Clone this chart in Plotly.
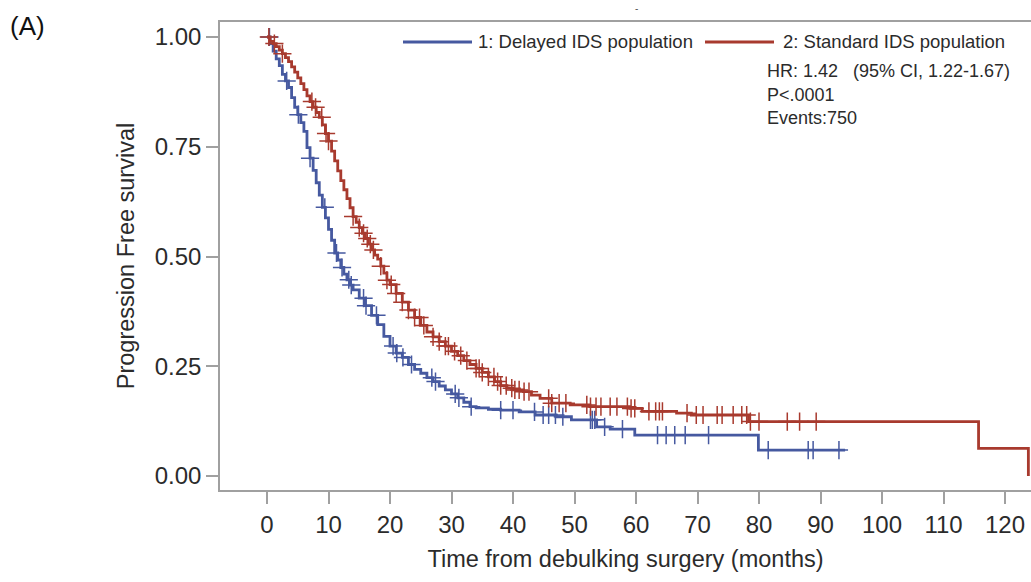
import numpy as np
import plotly.graph_objects as go

# ---- Data (Kaplan-Meier estimates) ----
delayed_time = [0, 0.5, 1, 1.5, 2, 2.5, 3, 3.5, 4, 4.5, 5, 5.5, 6, 6.5, 7, 7.5, 8, 8.5, 9, 9.5,
                10, 10.5, 11, 11.5, 12, 12.5, 13, 13.5, 14, 15, 16, 17, 18, 19, 20, 21, 22, 23, 24,
                25, 26, 27, 28, 29, 30, 31, 32, 33, 34, 36, 38, 41, 43.6, 47, 49.5, 53.6, 55.8,
                59.8, 79.9, 94.0]
delayed_surv = [1.000, 0.985, 0.968, 0.950, 0.935, 0.915, 0.900, 0.885, 0.862, 0.840, 0.823, 0.805,
                0.785, 0.748, 0.724, 0.696, 0.668, 0.640, 0.612, 0.588, 0.562, 0.537, 0.508, 0.492,
                0.475, 0.460, 0.447, 0.435, 0.424, 0.405, 0.388, 0.366, 0.345, 0.318, 0.296, 0.280,
                0.270, 0.254, 0.243, 0.234, 0.224, 0.215, 0.205, 0.196, 0.187, 0.178, 0.168, 0.158,
                0.155, 0.152, 0.150, 0.146, 0.139, 0.135, 0.128, 0.112, 0.107, 0.093, 0.059, 0.059]
delayed_censor = [0.4, 3.2, 5.1, 7.0, 9.4, 11.3, 12.2, 13.3, 13.7, 15.7, 16.1, 17.8, 20.5, 21.1,
                  22.1, 23.5, 26.8, 27.4, 30.6, 31.2, 33.2, 38.0, 40.0, 43.5, 44.9, 45.8, 46.9,
                  48.1, 52.6, 52.9, 53.3, 54.9, 57.8, 63.5, 64.9, 66.3, 68.0, 71.8, 81.5, 88.0,
                  88.8, 93.0]

standard_time = [0, 0.5, 1, 1.5, 2, 2.5, 3, 3.5, 4, 4.5, 5, 5.5, 6, 6.5, 7, 7.5, 8, 8.5, 9, 9.5,
                 10, 10.5, 11, 11.5, 12, 12.5, 13, 13.5, 14, 14.5, 15, 15.5, 16, 16.5, 17, 17.5,
                 18, 18.5, 19, 19.5, 20, 21, 22, 23, 24, 25, 26, 27, 28, 29, 30, 31, 32, 33, 34,
                 35, 36, 37, 38, 39, 40, 41.7, 43, 44.4, 46.3, 49.3, 52.5, 59.0, 61.0, 66.6, 69.0,
                 78.3, 115.7, 123.8]
standard_surv = [1.000, 0.990, 0.985, 0.978, 0.970, 0.962, 0.953, 0.944, 0.932, 0.920, 0.907,
                 0.894, 0.880, 0.866, 0.853, 0.840, 0.828, 0.817, 0.800, 0.780, 0.763, 0.740,
                 0.718, 0.695, 0.673, 0.652, 0.632, 0.611, 0.591, 0.578, 0.566, 0.553, 0.541,
                 0.528, 0.515, 0.503, 0.494, 0.478, 0.462, 0.446, 0.436, 0.416, 0.396, 0.378,
                 0.361, 0.343, 0.328, 0.317, 0.306, 0.296, 0.284, 0.274, 0.263, 0.254, 0.245,
                 0.236, 0.226, 0.215, 0.206, 0.200, 0.196, 0.192, 0.184, 0.177, 0.166, 0.162,
                 0.158, 0.154, 0.147, 0.143, 0.139, 0.124, 0.063, 0.000]
standard_censor = [0.3, 1.2, 2.5, 7.3, 7.9, 8.9, 9.6, 10.0, 14.0, 15.0, 15.7, 16.3, 16.8, 17.3,
                   18.5, 19.5, 20.2, 21.0, 22.0, 23.0, 24.0, 24.8, 25.5, 27.0, 28.0, 29.0, 29.5,
                   30.5, 31.5, 32.5, 34.0, 34.5, 35.0, 36.0, 36.9, 37.5, 38.0, 38.9, 39.8, 40.3,
                   41.0, 41.8, 42.6, 45.8, 46.3, 47.5, 48.6, 52.0, 52.6, 53.5, 54.3, 55.8, 56.9,
                   58.6, 59.2, 59.8, 62.1, 63.2, 63.8, 64.3, 68.3, 69.8, 70.9, 73.2, 74.0, 75.8,
                   77.2, 78.0, 78.6, 80.0, 84.6, 86.6, 89.3]

x_ticks = [0, 10, 20, 30, 40, 50, 60, 70, 80, 90, 100, 110, 120]
y_ticks = [0.0, 0.25, 0.50, 0.75, 1.00]
y_tick_labels = ["0.00", "0.25", "0.50", "0.75", "1.00"]

series_names = ["1: Delayed IDS population", "2: Standard IDS population"]
stats_lines = ["HR: 1.42\u00a0\u00a0\u00a0(95% CI, 1.22-1.67)", "P<.0001", "Events:750"]

BLUE = "#4659a0"
RED = "#a83a2e"
AXIS = "#a0a0a0"
TXT = "#2b2b2b"
FONT = "Liberation Sans, Arial, sans-serif"


def step_value(times, surv, t):
    idx = np.searchsorted(np.asarray(times), t, side="right") - 1
    return np.asarray(surv)[np.clip(idx, 0, len(surv) - 1)]


fig = go.Figure()
for times, surv, cens, col, name in [
    (delayed_time, delayed_surv, delayed_censor, BLUE, series_names[0]),
    (standard_time, standard_surv, standard_censor, RED, series_names[1]),
]:
    fig.add_trace(go.Scatter(x=times, y=surv, mode="lines", line=dict(color=col, width=2.8, shape="hv"),
                             name=name, showlegend=False))
    fig.add_trace(go.Scatter(x=cens, y=step_value(times, surv, cens), mode="markers",
                             marker=dict(symbol="cross-thin", size=13, line=dict(color=col, width=1.5)),
                             showlegend=False, hoverinfo="skip"))

# manual legend (line samples + labels) in paper coordinates
L, T, W, H = 220, 22, 811, 468
def px(xp):
    return (xp - L) / W
def py(yp):
    return (T + H - yp) / H

leg_y = py(42)
fig.add_shape(type="line", xref="paper", yref="paper", x0=px(403), x1=px(472), y0=leg_y, y1=leg_y,
              line=dict(color=BLUE, width=2.8))
fig.add_shape(type="line", xref="paper", yref="paper", x0=px(705), x1=px(774), y0=leg_y, y1=leg_y,
              line=dict(color=RED, width=2.8))
fig.add_annotation(xref="paper", yref="paper", x=px(476), y=leg_y, text=series_names[0],
                   showarrow=False, xanchor="left", yanchor="middle", font=dict(size=18.5, color=TXT))
fig.add_annotation(xref="paper", yref="paper", x=px(781), y=leg_y, text=series_names[1],
                   showarrow=False, xanchor="left", yanchor="middle", font=dict(size=18.5, color=TXT))
for i, (line, ypix) in enumerate(zip(stats_lines, [71, 95, 118])):
    fig.add_annotation(xref="paper", yref="paper", x=px(765), y=py(ypix), text=line,
                       showarrow=False, xanchor="left", yanchor="middle", font=dict(size=18, color=TXT))

fig.add_annotation(xref="paper", yref="paper", x=px(8), y=py(26), text="(A)", showarrow=False,
                   xanchor="left", yanchor="middle", font=dict(size=26, color="#111111"))
fig.add_annotation(xref="paper", yref="paper", x=px(636), y=py(8), text="-", showarrow=False,
                   xanchor="center", yanchor="middle", font=dict(size=10, color="#555555"))

fig.update_layout(
    width=1031, height=582,
    margin=dict(l=L, r=0, t=T, b=582 - T - H),
    paper_bgcolor="white", plot_bgcolor="white",
    font=dict(family=FONT, color=TXT),
    showlegend=False,
)
fig.update_xaxes(
    range=[(220 - 267) / 6.15, (1031 - 267) / 6.15],
    tickvals=x_ticks, ticks="outside", ticklen=12, tickwidth=1.5, tickcolor=AXIS,
    showline=True, linecolor=AXIS, linewidth=1.5, mirror=True,
    showgrid=False, zeroline=False,
    tickfont=dict(size=24, color=TXT),
    title=dict(text="Time from debulking surgery (months)", font=dict(size=23.5, color=TXT), standoff=14),
)
fig.update_yaxes(
    range=[-14 / 439, 1 + 15 / 439],
    tickvals=y_ticks, ticktext=y_tick_labels, ticks="outside", ticklen=12, tickwidth=1.5, tickcolor=AXIS,
    showline=True, linecolor=AXIS, linewidth=1.5, mirror=False,
    showgrid=False, zeroline=False,
    tickfont=dict(size=24, color=TXT),
    title=dict(text="Progression Free survival", font=dict(size=23.5, color=TXT), standoff=14),
)

fig.write_html("out.html", config={"displayModeBar": False},
               post_script="document.body.style.margin='0px';document.body.style.overflow='hidden';")
